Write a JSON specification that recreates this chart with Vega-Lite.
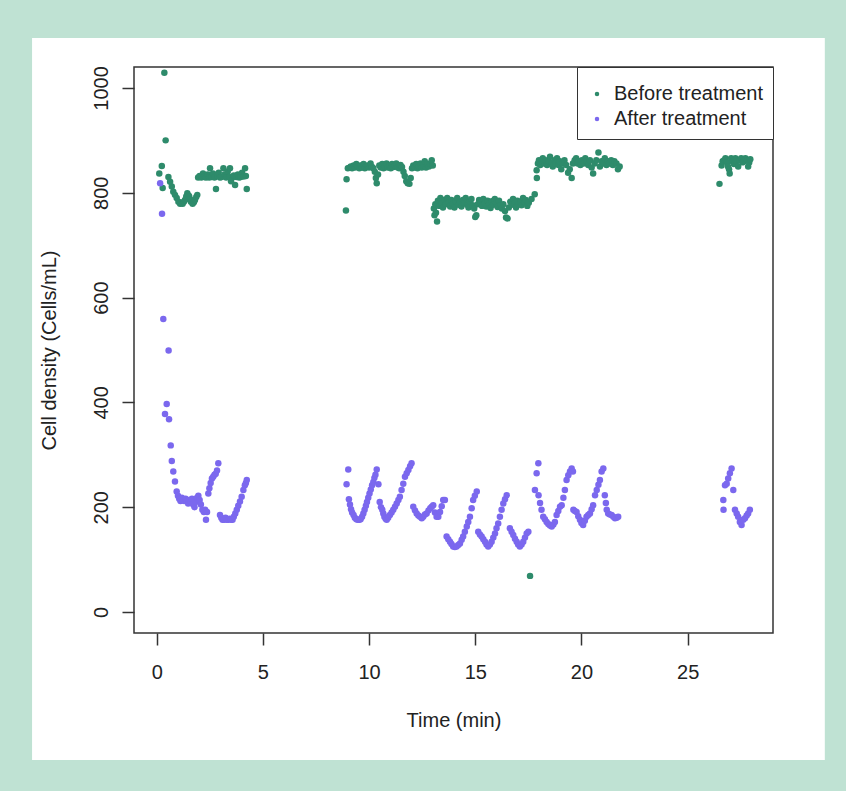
{
"$schema": "https://vega.github.io/schema/vega-lite/v6.json",
"width": 639, "height": 566,
"autosize": {"type": "none"},
"padding": {"left": 134, "top": 67, "right": 73, "bottom": 158},
"background": "#bfe2d3",
"config": {"font": "Liberation Sans", "view": {"stroke": null}},
"encoding": {
  "x": {"type": "quantitative", "scale": {"domain": [-1.07, 29.02], "nice": false, "zero": false},
    "axis": {"title": "Time (min)", "values": [0,5,10,15,20,25], "grid": false, "domain": false, "zindex": 1,
      "tickSize": 12, "tickColor": "#333", "tickWidth": 1.5, "labelFontSize": 20, "labelColor": "#222", "labelPadding": 17,
      "titleFontSize": 20, "titleFontWeight": "normal", "titleColor": "#222", "titlePadding": 28}},
  "y": {"type": "quantitative", "scale": {"domain": [-40, 1040], "nice": false, "zero": false},
    "axis": {"title": "Cell density (Cells/mL)", "values": [0,200,400,600,800,1000], "format": "d", "grid": false, "domain": false, "zindex": 1,
      "tickSize": 12, "tickColor": "#333", "tickWidth": 1.5, "labelFontSize": 20, "labelColor": "#222", "labelPadding": 15,
      "labelAngle": -90, "labelAlign": "center", "labelBaseline": "alphabetic",
      "titleFontSize": 20, "titleFontWeight": "normal", "titleColor": "#222", "titlePadding": 32}}
},
"layer": [
  {"data": {"values": [{}]}, "mark": {"type": "rect", "fill": "white", "clip": false},
   "encoding": {"x": {"datum": -5.87}, "x2": {"datum": 31.46}, "y": {"datum": -282.4}, "y2": {"datum": 1095.4}}},
  {"data": {"values": [
{"t":0.12,"d":837},{"t":0.24,"d":851},{"t":0.28,"d":809},{"t":0.36,"d":1029},{"t":0.42,"d":900},{"t":0.55,"d":830},{"t":0.63,"d":821},{"t":0.71,"d":812},{"t":0.78,"d":802},{"t":0.86,"d":796},{"t":0.94,"d":790},{"t":1.02,"d":783},{"t":1.1,"d":779},{"t":1.16,"d":781},{"t":1.22,"d":779},{"t":1.28,"d":783},{"t":1.33,"d":786},{"t":1.39,"d":793},{"t":1.44,"d":799},{"t":1.5,"d":795},{"t":1.53,"d":793},{"t":1.58,"d":787},{"t":1.61,"d":783},{"t":1.69,"d":779},{"t":1.75,"d":782},{"t":1.8,"d":786},{"t":1.86,"d":792},{"t":1.91,"d":796},{"t":1.95,"d":829},{"t":2.02,"d":832},{"t":2.1,"d":829},{"t":2.18,"d":837},{"t":2.25,"d":830},{"t":2.32,"d":829},{"t":2.4,"d":835},{"t":2.47,"d":829},{"t":2.51,"d":847},{"t":2.58,"d":830},{"t":2.65,"d":837},{"t":2.72,"d":829},{"t":2.79,"d":807},{"t":2.85,"d":832},{"t":2.92,"d":838},{"t":2.98,"d":829},{"t":3.05,"d":830},{"t":3.14,"d":847},{"t":3.2,"d":835},{"t":3.27,"d":829},{"t":3.34,"d":840},{"t":3.41,"d":830},{"t":3.45,"d":847},{"t":3.5,"d":822},{"t":3.56,"d":829},{"t":3.63,"d":833},{"t":3.69,"d":815},{"t":3.75,"d":830},{"t":3.82,"d":835},{"t":3.88,"d":829},{"t":3.95,"d":830},{"t":4.02,"d":838},{"t":4.09,"d":831},{"t":4.16,"d":847},{"t":4.2,"d":832},{"t":4.24,"d":807},
{"t":8.91,"d":766},{"t":8.94,"d":826},{"t":9.0,"d":847},{"t":9.07,"d":848},{"t":9.14,"d":850},{"t":9.2,"d":847},{"t":9.27,"d":852},{"t":9.34,"d":848},{"t":9.4,"d":855},{"t":9.47,"d":850},{"t":9.54,"d":847},{"t":9.6,"d":852},{"t":9.67,"d":848},{"t":9.74,"d":855},{"t":9.8,"d":847},{"t":9.87,"d":850},{"t":9.94,"d":852},{"t":10.0,"d":848},{"t":10.07,"d":856},{"t":10.14,"d":849},{"t":10.2,"d":847},{"t":10.27,"d":840},{"t":10.32,"d":828},{"t":10.36,"d":818},{"t":10.42,"d":835},{"t":10.48,"d":852},{"t":10.55,"d":848},{"t":10.62,"d":855},{"t":10.68,"d":847},{"t":10.75,"d":850},{"t":10.82,"d":856},{"t":10.88,"d":848},{"t":10.95,"d":852},{"t":11.02,"d":847},{"t":11.08,"d":855},{"t":11.15,"d":849},{"t":11.22,"d":852},{"t":11.28,"d":856},{"t":11.35,"d":848},{"t":11.42,"d":847},{"t":11.48,"d":853},{"t":11.55,"d":849},{"t":11.62,"d":840},{"t":11.68,"d":832},{"t":11.75,"d":822},{"t":11.82,"d":818},{"t":11.9,"d":817},{"t":11.96,"d":828},{"t":12.02,"d":847},{"t":12.08,"d":852},{"t":12.15,"d":848},{"t":12.22,"d":855},{"t":12.28,"d":847},{"t":12.35,"d":850},{"t":12.42,"d":856},{"t":12.48,"d":848},{"t":12.55,"d":852},{"t":12.62,"d":860},{"t":12.68,"d":848},{"t":12.75,"d":855},{"t":12.82,"d":850},{"t":12.88,"d":856},{"t":12.95,"d":862},{"t":13.0,"d":852},
{"t":13.05,"d":770},{"t":13.08,"d":757},{"t":13.12,"d":778},{"t":13.15,"d":762},{"t":13.2,"d":745},{"t":13.24,"d":785},{"t":13.3,"d":775},{"t":13.36,"d":790},{"t":13.42,"d":780},{"t":13.48,"d":772},{"t":13.55,"d":786},{"t":13.62,"d":778},{"t":13.68,"d":790},{"t":13.75,"d":781},{"t":13.82,"d":774},{"t":13.88,"d":786},{"t":13.95,"d":779},{"t":14.02,"d":772},{"t":14.08,"d":784},{"t":14.15,"d":790},{"t":14.22,"d":777},{"t":14.28,"d":782},{"t":14.35,"d":774},{"t":14.42,"d":786},{"t":14.48,"d":780},{"t":14.55,"d":790},{"t":14.62,"d":777},{"t":14.68,"d":772},{"t":14.75,"d":784},{"t":14.82,"d":788},{"t":14.88,"d":776},{"t":14.95,"d":770},{"t":15.0,"d":754},{"t":15.05,"d":757},{"t":15.12,"d":778},{"t":15.18,"d":786},{"t":15.25,"d":781},{"t":15.32,"d":775},{"t":15.38,"d":788},{"t":15.45,"d":780},{"t":15.52,"d":774},{"t":15.58,"d":785},{"t":15.65,"d":779},{"t":15.72,"d":771},{"t":15.78,"d":784},{"t":15.85,"d":777},{"t":15.92,"d":788},{"t":15.98,"d":780},{"t":16.05,"d":773},{"t":16.12,"d":785},{"t":16.18,"d":776},{"t":16.25,"d":770},{"t":16.32,"d":778},{"t":16.4,"d":765},{"t":16.45,"d":753},{"t":16.52,"d":751},{"t":16.58,"d":772},{"t":16.65,"d":783},{"t":16.72,"d":777},{"t":16.78,"d":788},{"t":16.85,"d":779},{"t":16.92,"d":772},{"t":16.98,"d":785},{"t":17.05,"d":778},{"t":17.12,"d":783},{"t":17.18,"d":776},{"t":17.25,"d":790},{"t":17.32,"d":782},{"t":17.38,"d":786},{"t":17.45,"d":775},{"t":17.52,"d":781},{"t":17.58,"d":69},{"t":17.65,"d":788},{"t":17.8,"d":797},
{"t":17.89,"d":843},{"t":17.9,"d":828},{"t":17.95,"d":856},{"t":18.0,"d":862},{"t":18.06,"d":853},{"t":18.12,"d":860},{"t":18.18,"d":866},{"t":18.25,"d":856},{"t":18.32,"d":862},{"t":18.38,"d":853},{"t":18.45,"d":860},{"t":18.52,"d":869},{"t":18.58,"d":856},{"t":18.65,"d":850},{"t":18.72,"d":862},{"t":18.78,"d":856},{"t":18.85,"d":866},{"t":18.92,"d":853},{"t":18.98,"d":860},{"t":19.05,"d":845},{"t":19.12,"d":856},{"t":19.2,"d":862},{"t":19.28,"d":853},{"t":19.37,"d":838},{"t":19.45,"d":845},{"t":19.54,"d":828},{"t":19.6,"d":856},{"t":19.68,"d":862},{"t":19.75,"d":866},{"t":19.82,"d":856},{"t":19.88,"d":860},{"t":19.95,"d":853},{"t":20.02,"d":862},{"t":20.1,"d":856},{"t":20.18,"d":866},{"t":20.25,"d":860},{"t":20.32,"d":853},{"t":20.4,"d":862},{"t":20.48,"d":848},{"t":20.55,"d":837},{"t":20.62,"d":856},{"t":20.7,"d":862},{"t":20.8,"d":877},{"t":20.87,"d":850},{"t":20.95,"d":860},{"t":21.02,"d":856},{"t":21.1,"d":866},{"t":21.18,"d":853},{"t":21.25,"d":860},{"t":21.32,"d":856},{"t":21.4,"d":862},{"t":21.48,"d":853},{"t":21.55,"d":860},{"t":21.65,"d":856},{"t":21.72,"d":845},{"t":21.8,"d":850},
{"t":26.5,"d":817},{"t":26.6,"d":852},{"t":26.65,"d":860},{"t":26.72,"d":862},{"t":26.78,"d":866},{"t":26.85,"d":858},{"t":26.9,"d":850},{"t":26.95,"d":845},{"t":26.98,"d":837},{"t":27.05,"d":866},{"t":27.1,"d":860},{"t":27.18,"d":855},{"t":27.25,"d":866},{"t":27.3,"d":860},{"t":27.38,"d":850},{"t":27.45,"d":862},{"t":27.52,"d":866},{"t":27.58,"d":858},{"t":27.65,"d":860},{"t":27.72,"d":866},{"t":27.8,"d":862},{"t":27.85,"d":850},{"t":27.9,"d":858},{"t":27.95,"d":864}
  ]},
   "mark": {"type": "point", "filled": true, "size": 42, "opacity": 1},
   "encoding": {"x": {"field": "t"}, "y": {"field": "d"}, "color": {"datum": "Before treatment"}}},
  {"data": {"values": [
{"t":0.16,"d":818},{"t":0.25,"d":760},{"t":0.31,"d":559},{"t":0.56,"d":499},{"t":0.47,"d":397},{"t":0.39,"d":378},{"t":0.58,"d":368},{"t":0.66,"d":318},{"t":0.71,"d":288},{"t":0.78,"d":268},{"t":0.86,"d":249},{"t":0.94,"d":230},{"t":1.0,"d":222},{"t":1.06,"d":216},{"t":1.12,"d":212},{"t":1.18,"d":218},{"t":1.24,"d":214},{"t":1.3,"d":212},{"t":1.36,"d":216},{"t":1.42,"d":212},{"t":1.48,"d":207},{"t":1.54,"d":214},{"t":1.6,"d":211},{"t":1.66,"d":216},{"t":1.72,"d":205},{"t":1.78,"d":200},{"t":1.84,"d":210},{"t":1.9,"d":218},{"t":1.96,"d":222},{"t":2.02,"d":214},{"t":2.08,"d":205},{"t":2.15,"d":195},{"t":2.22,"d":191},{"t":2.28,"d":195},{"t":2.32,"d":176},{"t":2.37,"d":191},{"t":2.43,"d":226},{"t":2.48,"d":236},{"t":2.54,"d":246},{"t":2.6,"d":255},{"t":2.66,"d":258},{"t":2.72,"d":262},{"t":2.78,"d":264},{"t":2.84,"d":270},{"t":2.9,"d":284},{"t":2.98,"d":185},{"t":3.04,"d":180},{"t":3.1,"d":176},{"t":3.17,"d":176},{"t":3.24,"d":180},{"t":3.3,"d":176},{"t":3.37,"d":176},{"t":3.44,"d":178},{"t":3.5,"d":176},{"t":3.57,"d":176},{"t":3.63,"d":182},{"t":3.7,"d":188},{"t":3.77,"d":195},{"t":3.84,"d":203},{"t":3.92,"d":211},{"t":4.0,"d":220},{"t":4.08,"d":233},{"t":4.15,"d":242},{"t":4.2,"d":246},{"t":4.24,"d":252},
{"t":8.94,"d":244},{"t":9.02,"d":272},{"t":9.05,"d":215},{"t":9.1,"d":205},{"t":9.15,"d":196},{"t":9.2,"d":190},{"t":9.27,"d":185},{"t":9.33,"d":180},{"t":9.4,"d":177},{"t":9.47,"d":176},{"t":9.54,"d":176},{"t":9.6,"d":177},{"t":9.67,"d":182},{"t":9.73,"d":188},{"t":9.79,"d":195},{"t":9.85,"d":203},{"t":9.9,"d":210},{"t":9.96,"d":218},{"t":10.02,"d":226},{"t":10.08,"d":234},{"t":10.14,"d":242},{"t":10.2,"d":248},{"t":10.25,"d":256},{"t":10.3,"d":262},{"t":10.36,"d":272},{"t":10.44,"d":244},{"t":10.5,"d":210},{"t":10.56,"d":200},{"t":10.62,"d":195},{"t":10.67,"d":188},{"t":10.72,"d":182},{"t":10.78,"d":178},{"t":10.83,"d":176},{"t":10.9,"d":180},{"t":10.98,"d":185},{"t":11.06,"d":190},{"t":11.14,"d":195},{"t":11.22,"d":201},{"t":11.3,"d":207},{"t":11.38,"d":214},{"t":11.45,"d":220},{"t":11.53,"d":233},{"t":11.61,"d":245},{"t":11.69,"d":258},{"t":11.77,"d":265},{"t":11.85,"d":271},{"t":11.93,"d":278},{"t":12.0,"d":284},{"t":12.08,"d":201},{"t":12.16,"d":194},{"t":12.24,"d":188},{"t":12.32,"d":184},{"t":12.4,"d":182},{"t":12.48,"d":179},{"t":12.55,"d":182},{"t":12.63,"d":186},{"t":12.71,"d":188},{"t":12.8,"d":194},{"t":12.88,"d":198},{"t":12.95,"d":201},{"t":13.02,"d":204},{"t":13.1,"d":190},{"t":13.18,"d":182},{"t":13.26,"d":182},{"t":13.34,"d":191},{"t":13.42,"d":202},{"t":13.49,"d":214},{"t":13.57,"d":214},
{"t":13.65,"d":144},{"t":13.73,"d":139},{"t":13.81,"d":134},{"t":13.88,"d":130},{"t":13.96,"d":125},{"t":14.04,"d":124},{"t":14.12,"d":125},{"t":14.2,"d":128},{"t":14.28,"d":131},{"t":14.36,"d":138},{"t":14.43,"d":144},{"t":14.51,"d":153},{"t":14.6,"d":163},{"t":14.67,"d":172},{"t":14.75,"d":182},{"t":14.83,"d":198},{"t":14.9,"d":214},{"t":14.98,"d":222},{"t":15.07,"d":230},
{"t":15.14,"d":153},{"t":15.22,"d":148},{"t":15.3,"d":144},{"t":15.38,"d":139},{"t":15.46,"d":134},{"t":15.53,"d":129},{"t":15.61,"d":125},{"t":15.69,"d":129},{"t":15.77,"d":134},{"t":15.85,"d":142},{"t":15.93,"d":150},{"t":16.0,"d":160},{"t":16.08,"d":169},{"t":16.16,"d":182},{"t":16.24,"d":195},{"t":16.32,"d":207},{"t":16.4,"d":215},{"t":16.48,"d":223},
{"t":16.63,"d":160},{"t":16.71,"d":153},{"t":16.79,"d":147},{"t":16.87,"d":140},{"t":16.95,"d":134},{"t":17.02,"d":129},{"t":17.1,"d":125},{"t":17.18,"d":129},{"t":17.26,"d":134},{"t":17.34,"d":142},{"t":17.42,"d":150},{"t":17.5,"d":153},
{"t":17.81,"d":233},{"t":17.89,"d":265},{"t":17.97,"d":284},{"t":17.98,"d":223},{"t":18.05,"d":208},{"t":18.12,"d":195},{"t":18.2,"d":182},{"t":18.28,"d":177},{"t":18.36,"d":172},{"t":18.44,"d":168},{"t":18.52,"d":165},{"t":18.6,"d":163},{"t":18.68,"d":167},{"t":18.75,"d":172},{"t":18.83,"d":185},{"t":18.91,"d":193},{"t":18.99,"d":201},{"t":19.07,"d":204},{"t":19.15,"d":218},{"t":19.22,"d":233},{"t":19.3,"d":252},{"t":19.38,"d":261},{"t":19.46,"d":268},{"t":19.54,"d":274},{"t":19.6,"d":268},{"t":19.62,"d":195},{"t":19.69,"d":193},{"t":19.77,"d":191},{"t":19.85,"d":183},{"t":19.93,"d":176},{"t":20.0,"d":170},{"t":20.08,"d":166},{"t":20.16,"d":174},{"t":20.24,"d":182},{"t":20.32,"d":185},{"t":20.4,"d":188},{"t":20.48,"d":196},{"t":20.55,"d":204},{"t":20.64,"d":223},{"t":20.72,"d":233},{"t":20.8,"d":243},{"t":20.87,"d":252},{"t":20.95,"d":268},{"t":21.03,"d":274},{"t":21.1,"d":223},{"t":21.15,"d":208},{"t":21.19,"d":195},{"t":21.26,"d":188},{"t":21.34,"d":186},{"t":21.42,"d":185},{"t":21.5,"d":182},{"t":21.58,"d":179},{"t":21.66,"d":180},{"t":21.73,"d":182},
{"t":26.68,"d":214},{"t":26.69,"d":195},{"t":26.76,"d":242},{"t":26.84,"d":245},{"t":26.91,"d":255},{"t":26.99,"d":265},{"t":27.07,"d":274},{"t":27.15,"d":233},{"t":27.23,"d":195},{"t":27.31,"d":188},{"t":27.38,"d":182},{"t":27.46,"d":172},{"t":27.54,"d":166},{"t":27.62,"d":176},{"t":27.7,"d":179},{"t":27.78,"d":184},{"t":27.85,"d":188},{"t":27.93,"d":195}
  ]},
   "mark": {"type": "point", "filled": true, "size": 42, "opacity": 1},
   "encoding": {"x": {"field": "t"}, "y": {"field": "d"}, "color": {"datum": "After treatment",
     "scale": {"domain": ["Before treatment", "After treatment"], "range": ["#2e8b6b", "#7b68ee"]},
     "legend": {"title": " ", "titleFontSize": 1, "titlePadding": 6, "orient": "top-right", "offset": 0, "fillColor": "white", "strokeColor": "#333",
       "padding": 10, "labelFontSize": 20, "labelColor": "#222", "labelOffset": 7, "symbolSize": 20, "symbolType": "circle", "rowPadding": 5}}}},
  {"data": {"values": [{}]}, "mark": {"type": "rect", "fill": null, "stroke": "#333", "strokeWidth": 1.5, "clip": false},
   "encoding": {"x": {"datum": -1.07}, "x2": {"datum": 29.02}, "y": {"datum": -40}, "y2": {"datum": 1040}}}
]
}
